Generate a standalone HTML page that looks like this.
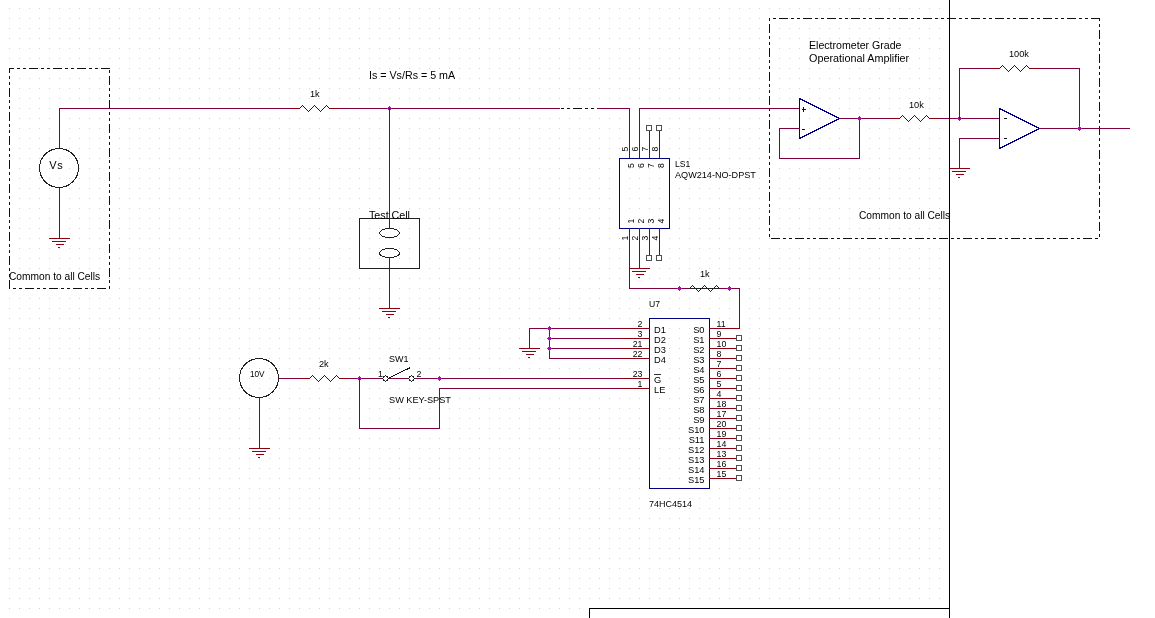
<!DOCTYPE html>
<html><head><meta charset="utf-8"><style>
html,body{margin:0;padding:0;background:#fff;width:1155px;height:618px;overflow:hidden}
svg{display:block;will-change:transform}
text{font-family:"Liberation Sans",sans-serif}
line,polyline{stroke-linecap:square}
</style></head><body>
<svg width="1155" height="618" viewBox="0 0 1155 618" shape-rendering="crispEdges">
<defs><pattern id="g" x="0" y="0" width="10" height="10" patternUnits="userSpaceOnUse"><rect x="9" y="8" width="1" height="1" fill="#d0d0d0"/></pattern></defs>
<path d="M0,0 H949 V608 H589 V618 H0 Z" fill="url(#g)"/>
<rect x="9" y="68" width="5" height="1" fill="#101010"/>
<rect x="17" y="68" width="3" height="1" fill="#101010"/>
<rect x="23" y="68" width="3" height="1" fill="#101010"/>
<rect x="29" y="68" width="9" height="1" fill="#101010"/>
<rect x="41" y="68" width="3" height="1" fill="#101010"/>
<rect x="47" y="68" width="3" height="1" fill="#101010"/>
<rect x="53" y="68" width="9" height="1" fill="#101010"/>
<rect x="65" y="68" width="3" height="1" fill="#101010"/>
<rect x="71" y="68" width="3" height="1" fill="#101010"/>
<rect x="77" y="68" width="9" height="1" fill="#101010"/>
<rect x="89" y="68" width="3" height="1" fill="#101010"/>
<rect x="95" y="68" width="3" height="1" fill="#101010"/>
<rect x="101" y="68" width="9" height="1" fill="#101010"/>
<rect x="9" y="288" width="1" height="1" fill="#101010"/>
<rect x="13" y="288" width="3" height="1" fill="#101010"/>
<rect x="19" y="288" width="3" height="1" fill="#101010"/>
<rect x="25" y="288" width="9" height="1" fill="#101010"/>
<rect x="37" y="288" width="3" height="1" fill="#101010"/>
<rect x="43" y="288" width="3" height="1" fill="#101010"/>
<rect x="49" y="288" width="9" height="1" fill="#101010"/>
<rect x="61" y="288" width="3" height="1" fill="#101010"/>
<rect x="67" y="288" width="3" height="1" fill="#101010"/>
<rect x="73" y="288" width="9" height="1" fill="#101010"/>
<rect x="85" y="288" width="3" height="1" fill="#101010"/>
<rect x="91" y="288" width="3" height="1" fill="#101010"/>
<rect x="97" y="288" width="9" height="1" fill="#101010"/>
<rect x="109" y="288" width="1" height="1" fill="#101010"/>
<rect x="9" y="68" width="1" height="5" fill="#101010"/>
<rect x="9" y="76" width="1" height="3" fill="#101010"/>
<rect x="9" y="82" width="1" height="3" fill="#101010"/>
<rect x="9" y="88" width="1" height="9" fill="#101010"/>
<rect x="9" y="100" width="1" height="3" fill="#101010"/>
<rect x="9" y="106" width="1" height="3" fill="#101010"/>
<rect x="9" y="112" width="1" height="9" fill="#101010"/>
<rect x="9" y="124" width="1" height="3" fill="#101010"/>
<rect x="9" y="130" width="1" height="3" fill="#101010"/>
<rect x="9" y="136" width="1" height="9" fill="#101010"/>
<rect x="9" y="148" width="1" height="3" fill="#101010"/>
<rect x="9" y="154" width="1" height="3" fill="#101010"/>
<rect x="9" y="160" width="1" height="9" fill="#101010"/>
<rect x="9" y="172" width="1" height="3" fill="#101010"/>
<rect x="9" y="178" width="1" height="3" fill="#101010"/>
<rect x="9" y="184" width="1" height="9" fill="#101010"/>
<rect x="9" y="196" width="1" height="3" fill="#101010"/>
<rect x="9" y="202" width="1" height="3" fill="#101010"/>
<rect x="9" y="208" width="1" height="9" fill="#101010"/>
<rect x="9" y="220" width="1" height="3" fill="#101010"/>
<rect x="9" y="226" width="1" height="3" fill="#101010"/>
<rect x="9" y="232" width="1" height="9" fill="#101010"/>
<rect x="9" y="244" width="1" height="3" fill="#101010"/>
<rect x="9" y="250" width="1" height="3" fill="#101010"/>
<rect x="9" y="256" width="1" height="9" fill="#101010"/>
<rect x="9" y="268" width="1" height="3" fill="#101010"/>
<rect x="9" y="274" width="1" height="3" fill="#101010"/>
<rect x="9" y="280" width="1" height="9" fill="#101010"/>
<rect x="109" y="70" width="1" height="3" fill="#101010"/>
<rect x="109" y="76" width="1" height="9" fill="#101010"/>
<rect x="109" y="88" width="1" height="3" fill="#101010"/>
<rect x="109" y="94" width="1" height="3" fill="#101010"/>
<rect x="109" y="100" width="1" height="9" fill="#101010"/>
<rect x="109" y="112" width="1" height="3" fill="#101010"/>
<rect x="109" y="118" width="1" height="3" fill="#101010"/>
<rect x="109" y="124" width="1" height="9" fill="#101010"/>
<rect x="109" y="136" width="1" height="3" fill="#101010"/>
<rect x="109" y="142" width="1" height="3" fill="#101010"/>
<rect x="109" y="148" width="1" height="9" fill="#101010"/>
<rect x="109" y="160" width="1" height="3" fill="#101010"/>
<rect x="109" y="166" width="1" height="3" fill="#101010"/>
<rect x="109" y="172" width="1" height="9" fill="#101010"/>
<rect x="109" y="184" width="1" height="3" fill="#101010"/>
<rect x="109" y="190" width="1" height="3" fill="#101010"/>
<rect x="109" y="196" width="1" height="9" fill="#101010"/>
<rect x="109" y="208" width="1" height="3" fill="#101010"/>
<rect x="109" y="214" width="1" height="3" fill="#101010"/>
<rect x="109" y="220" width="1" height="9" fill="#101010"/>
<rect x="109" y="232" width="1" height="3" fill="#101010"/>
<rect x="109" y="238" width="1" height="3" fill="#101010"/>
<rect x="109" y="244" width="1" height="9" fill="#101010"/>
<rect x="109" y="256" width="1" height="3" fill="#101010"/>
<rect x="109" y="262" width="1" height="3" fill="#101010"/>
<rect x="109" y="268" width="1" height="9" fill="#101010"/>
<rect x="109" y="280" width="1" height="3" fill="#101010"/>
<rect x="109" y="286" width="1" height="3" fill="#101010"/>
<rect x="769" y="18" width="1" height="1" fill="#101010"/>
<rect x="773" y="18" width="3" height="1" fill="#101010"/>
<rect x="779" y="18" width="9" height="1" fill="#101010"/>
<rect x="791" y="18" width="3" height="1" fill="#101010"/>
<rect x="797" y="18" width="3" height="1" fill="#101010"/>
<rect x="803" y="18" width="9" height="1" fill="#101010"/>
<rect x="815" y="18" width="3" height="1" fill="#101010"/>
<rect x="821" y="18" width="3" height="1" fill="#101010"/>
<rect x="827" y="18" width="9" height="1" fill="#101010"/>
<rect x="839" y="18" width="3" height="1" fill="#101010"/>
<rect x="845" y="18" width="3" height="1" fill="#101010"/>
<rect x="851" y="18" width="9" height="1" fill="#101010"/>
<rect x="863" y="18" width="3" height="1" fill="#101010"/>
<rect x="869" y="18" width="3" height="1" fill="#101010"/>
<rect x="875" y="18" width="9" height="1" fill="#101010"/>
<rect x="887" y="18" width="3" height="1" fill="#101010"/>
<rect x="893" y="18" width="3" height="1" fill="#101010"/>
<rect x="899" y="18" width="9" height="1" fill="#101010"/>
<rect x="911" y="18" width="3" height="1" fill="#101010"/>
<rect x="917" y="18" width="3" height="1" fill="#101010"/>
<rect x="923" y="18" width="9" height="1" fill="#101010"/>
<rect x="935" y="18" width="3" height="1" fill="#101010"/>
<rect x="941" y="18" width="3" height="1" fill="#101010"/>
<rect x="947" y="18" width="9" height="1" fill="#101010"/>
<rect x="959" y="18" width="3" height="1" fill="#101010"/>
<rect x="965" y="18" width="3" height="1" fill="#101010"/>
<rect x="971" y="18" width="9" height="1" fill="#101010"/>
<rect x="983" y="18" width="3" height="1" fill="#101010"/>
<rect x="989" y="18" width="3" height="1" fill="#101010"/>
<rect x="995" y="18" width="9" height="1" fill="#101010"/>
<rect x="1007" y="18" width="3" height="1" fill="#101010"/>
<rect x="1013" y="18" width="3" height="1" fill="#101010"/>
<rect x="1019" y="18" width="9" height="1" fill="#101010"/>
<rect x="1031" y="18" width="3" height="1" fill="#101010"/>
<rect x="1037" y="18" width="3" height="1" fill="#101010"/>
<rect x="1043" y="18" width="9" height="1" fill="#101010"/>
<rect x="1055" y="18" width="3" height="1" fill="#101010"/>
<rect x="1061" y="18" width="3" height="1" fill="#101010"/>
<rect x="1067" y="18" width="9" height="1" fill="#101010"/>
<rect x="1079" y="18" width="3" height="1" fill="#101010"/>
<rect x="1085" y="18" width="3" height="1" fill="#101010"/>
<rect x="1091" y="18" width="9" height="1" fill="#101010"/>
<rect x="771" y="238" width="9" height="1" fill="#101010"/>
<rect x="783" y="238" width="3" height="1" fill="#101010"/>
<rect x="789" y="238" width="3" height="1" fill="#101010"/>
<rect x="795" y="238" width="9" height="1" fill="#101010"/>
<rect x="807" y="238" width="3" height="1" fill="#101010"/>
<rect x="813" y="238" width="3" height="1" fill="#101010"/>
<rect x="819" y="238" width="9" height="1" fill="#101010"/>
<rect x="831" y="238" width="3" height="1" fill="#101010"/>
<rect x="837" y="238" width="3" height="1" fill="#101010"/>
<rect x="843" y="238" width="9" height="1" fill="#101010"/>
<rect x="855" y="238" width="3" height="1" fill="#101010"/>
<rect x="861" y="238" width="3" height="1" fill="#101010"/>
<rect x="867" y="238" width="9" height="1" fill="#101010"/>
<rect x="879" y="238" width="3" height="1" fill="#101010"/>
<rect x="885" y="238" width="3" height="1" fill="#101010"/>
<rect x="891" y="238" width="9" height="1" fill="#101010"/>
<rect x="903" y="238" width="3" height="1" fill="#101010"/>
<rect x="909" y="238" width="3" height="1" fill="#101010"/>
<rect x="915" y="238" width="9" height="1" fill="#101010"/>
<rect x="927" y="238" width="3" height="1" fill="#101010"/>
<rect x="933" y="238" width="3" height="1" fill="#101010"/>
<rect x="939" y="238" width="9" height="1" fill="#101010"/>
<rect x="951" y="238" width="3" height="1" fill="#101010"/>
<rect x="957" y="238" width="3" height="1" fill="#101010"/>
<rect x="963" y="238" width="9" height="1" fill="#101010"/>
<rect x="975" y="238" width="3" height="1" fill="#101010"/>
<rect x="981" y="238" width="3" height="1" fill="#101010"/>
<rect x="987" y="238" width="9" height="1" fill="#101010"/>
<rect x="999" y="238" width="3" height="1" fill="#101010"/>
<rect x="1005" y="238" width="3" height="1" fill="#101010"/>
<rect x="1011" y="238" width="9" height="1" fill="#101010"/>
<rect x="1023" y="238" width="3" height="1" fill="#101010"/>
<rect x="1029" y="238" width="3" height="1" fill="#101010"/>
<rect x="1035" y="238" width="9" height="1" fill="#101010"/>
<rect x="1047" y="238" width="3" height="1" fill="#101010"/>
<rect x="1053" y="238" width="3" height="1" fill="#101010"/>
<rect x="1059" y="238" width="9" height="1" fill="#101010"/>
<rect x="1071" y="238" width="3" height="1" fill="#101010"/>
<rect x="1077" y="238" width="3" height="1" fill="#101010"/>
<rect x="1083" y="238" width="9" height="1" fill="#101010"/>
<rect x="1095" y="238" width="3" height="1" fill="#101010"/>
<rect x="769" y="18" width="1" height="3" fill="#101010"/>
<rect x="769" y="24" width="1" height="9" fill="#101010"/>
<rect x="769" y="36" width="1" height="3" fill="#101010"/>
<rect x="769" y="42" width="1" height="3" fill="#101010"/>
<rect x="769" y="48" width="1" height="9" fill="#101010"/>
<rect x="769" y="60" width="1" height="3" fill="#101010"/>
<rect x="769" y="66" width="1" height="3" fill="#101010"/>
<rect x="769" y="72" width="1" height="9" fill="#101010"/>
<rect x="769" y="84" width="1" height="3" fill="#101010"/>
<rect x="769" y="90" width="1" height="3" fill="#101010"/>
<rect x="769" y="96" width="1" height="9" fill="#101010"/>
<rect x="769" y="108" width="1" height="3" fill="#101010"/>
<rect x="769" y="114" width="1" height="3" fill="#101010"/>
<rect x="769" y="120" width="1" height="9" fill="#101010"/>
<rect x="769" y="132" width="1" height="3" fill="#101010"/>
<rect x="769" y="138" width="1" height="3" fill="#101010"/>
<rect x="769" y="144" width="1" height="9" fill="#101010"/>
<rect x="769" y="156" width="1" height="3" fill="#101010"/>
<rect x="769" y="162" width="1" height="3" fill="#101010"/>
<rect x="769" y="168" width="1" height="9" fill="#101010"/>
<rect x="769" y="180" width="1" height="3" fill="#101010"/>
<rect x="769" y="186" width="1" height="3" fill="#101010"/>
<rect x="769" y="192" width="1" height="9" fill="#101010"/>
<rect x="769" y="204" width="1" height="3" fill="#101010"/>
<rect x="769" y="210" width="1" height="3" fill="#101010"/>
<rect x="769" y="216" width="1" height="9" fill="#101010"/>
<rect x="769" y="228" width="1" height="3" fill="#101010"/>
<rect x="769" y="234" width="1" height="3" fill="#101010"/>
<rect x="1099" y="18" width="1" height="3" fill="#101010"/>
<rect x="1099" y="24" width="1" height="3" fill="#101010"/>
<rect x="1099" y="30" width="1" height="9" fill="#101010"/>
<rect x="1099" y="42" width="1" height="3" fill="#101010"/>
<rect x="1099" y="48" width="1" height="3" fill="#101010"/>
<rect x="1099" y="54" width="1" height="9" fill="#101010"/>
<rect x="1099" y="66" width="1" height="3" fill="#101010"/>
<rect x="1099" y="72" width="1" height="3" fill="#101010"/>
<rect x="1099" y="78" width="1" height="9" fill="#101010"/>
<rect x="1099" y="90" width="1" height="3" fill="#101010"/>
<rect x="1099" y="96" width="1" height="3" fill="#101010"/>
<rect x="1099" y="102" width="1" height="9" fill="#101010"/>
<rect x="1099" y="114" width="1" height="3" fill="#101010"/>
<rect x="1099" y="120" width="1" height="3" fill="#101010"/>
<rect x="1099" y="126" width="1" height="9" fill="#101010"/>
<rect x="1099" y="138" width="1" height="3" fill="#101010"/>
<rect x="1099" y="144" width="1" height="3" fill="#101010"/>
<rect x="1099" y="150" width="1" height="9" fill="#101010"/>
<rect x="1099" y="162" width="1" height="3" fill="#101010"/>
<rect x="1099" y="168" width="1" height="3" fill="#101010"/>
<rect x="1099" y="174" width="1" height="9" fill="#101010"/>
<rect x="1099" y="186" width="1" height="3" fill="#101010"/>
<rect x="1099" y="192" width="1" height="3" fill="#101010"/>
<rect x="1099" y="198" width="1" height="9" fill="#101010"/>
<rect x="1099" y="210" width="1" height="3" fill="#101010"/>
<rect x="1099" y="216" width="1" height="3" fill="#101010"/>
<rect x="1099" y="222" width="1" height="9" fill="#101010"/>
<rect x="1099" y="234" width="1" height="3" fill="#101010"/>
<line x1="59.5" y1="108.5" x2="299.5" y2="108.5" stroke="#800040" />
<polyline points="299.5,108.5 302.5,105.5 308.5,111.5 314.5,105.5 320.5,111.5 326.5,105.5 329.5,108.5" fill="none" stroke="#202020" stroke-linejoin="miter"/>
<line x1="330.5" y1="108.5" x2="559.5" y2="108.5" stroke="#800040" />
<rect x="561" y="108" width="3" height="1" fill="#101010"/>
<rect x="567" y="108" width="3" height="1" fill="#101010"/>
<rect x="573" y="108" width="9" height="1" fill="#101010"/>
<rect x="585" y="108" width="3" height="1" fill="#101010"/>
<rect x="591" y="108" width="3" height="1" fill="#101010"/>
<polyline points="597.5,108.5 629.5,108.5 629.5,130.5" fill="none" stroke="#800040" />
<line x1="629.5" y1="130.5" x2="629.5" y2="158.5" stroke="#900010" />
<line x1="59.5" y1="108.5" x2="59.5" y2="148.5" stroke="#800040" />
<circle cx="59" cy="168" r="19.5" fill="none" stroke="#202020"/>
<line x1="59.5" y1="188.5" x2="59.5" y2="238.5" stroke="#800040" />
<line x1="49.5" y1="238.5" x2="69.5" y2="238.5" stroke="#900010" />
<line x1="52.5" y1="241.5" x2="65.5" y2="241.5" stroke="#900010" />
<line x1="56.5" y1="244.5" x2="63.5" y2="244.5" stroke="#900010" />
<line x1="58.5" y1="247.5" x2="59.5" y2="247.5" stroke="#900010" />
<text x="49.3" y="169" font-size="11" fill="#000000" text-anchor="start" letter-spacing="0.7">Vs</text>
<text x="9" y="280" font-size="10.2" fill="#000000" text-anchor="start" >Common to all Cells</text>
<text x="310" y="97" font-size="9.2" fill="#000000" text-anchor="start" >1k</text>
<text x="369" y="79" font-size="10.7" fill="#000000" text-anchor="start" >Is = Vs/Rs = 5 mA</text>
<circle cx="389.5" cy="108.5" r="2.2" fill="#c000c0"/>
<line x1="389.5" y1="108.5" x2="389.5" y2="228.5" stroke="#800040" />
<rect x="359.5" y="218.5" width="60" height="50" fill="none" stroke="#202020"/>
<text x="369" y="219" font-size="10.7" fill="#000000" text-anchor="start" >Test Cell</text>
<line x1="389.5" y1="108.5" x2="389.5" y2="228.5" stroke="#800040" />
<ellipse cx="389.5" cy="233" rx="10" ry="4.5" fill="none" stroke="#202020"/>
<ellipse cx="389.5" cy="253" rx="10" ry="4.5" fill="none" stroke="#202020"/>
<line x1="389.5" y1="258.5" x2="389.5" y2="308.5" stroke="#800040" />
<line x1="379.5" y1="308.5" x2="399.5" y2="308.5" stroke="#900010" />
<line x1="382.5" y1="311.5" x2="395.5" y2="311.5" stroke="#900010" />
<line x1="386.5" y1="314.5" x2="393.5" y2="314.5" stroke="#900010" />
<line x1="388.5" y1="317.5" x2="389.5" y2="317.5" stroke="#900010" />
<polyline points="639.5,130.5 639.5,108.5 799.5,108.5" fill="none" stroke="#800040" />
<line x1="639.5" y1="130.5" x2="639.5" y2="158.5" stroke="#900010" />
<line x1="649.5" y1="131.5" x2="649.5" y2="158.5" stroke="#900010" />
<rect x="646.5" y="125.5" width="5" height="5" fill="#fff" stroke="#505050"/>
<line x1="659.5" y1="131.5" x2="659.5" y2="158.5" stroke="#900010" />
<rect x="656.5" y="125.5" width="5" height="5" fill="#fff" stroke="#505050"/>
<rect x="619.5" y="158.5" width="50" height="70" fill="none" stroke="#000080"/>
<line x1="629.5" y1="228.5" x2="629.5" y2="258.5" stroke="#900010" />
<line x1="639.5" y1="228.5" x2="639.5" y2="258.5" stroke="#900010" />
<line x1="649.5" y1="228.5" x2="649.5" y2="255.5" stroke="#900010" />
<rect x="646.5" y="255.5" width="5" height="5" fill="#fff" stroke="#505050"/>
<line x1="659.5" y1="228.5" x2="659.5" y2="255.5" stroke="#900010" />
<rect x="656.5" y="255.5" width="5" height="5" fill="#fff" stroke="#505050"/>
<polyline points="629.5,258.5 629.5,288.5 679.5,288.5" fill="none" stroke="#800040" />
<line x1="639.5" y1="258.5" x2="639.5" y2="268.5" stroke="#800040" />
<line x1="629.5" y1="268.5" x2="649.5" y2="268.5" stroke="#900010" />
<line x1="632.5" y1="271.5" x2="645.5" y2="271.5" stroke="#900010" />
<line x1="636.5" y1="274.5" x2="643.5" y2="274.5" stroke="#900010" />
<line x1="638.5" y1="277.5" x2="639.5" y2="277.5" stroke="#900010" />
<text x="675" y="167" font-size="8.6" fill="#000000" text-anchor="start" >LS1</text>
<text x="675" y="178" font-size="9.1" fill="#000000" text-anchor="start" >AQW214-NO-DPST</text>
<text x="0" y="0" font-size="8.6" fill="#000000" text-anchor="middle" transform="translate(628,149) rotate(-90)">5</text>
<text x="0" y="0" font-size="8.6" fill="#000000" text-anchor="middle" transform="translate(634,165.5) rotate(-90)">5</text>
<text x="0" y="0" font-size="8.6" fill="#000000" text-anchor="middle" transform="translate(638,149) rotate(-90)">6</text>
<text x="0" y="0" font-size="8.6" fill="#000000" text-anchor="middle" transform="translate(644,165.5) rotate(-90)">6</text>
<text x="0" y="0" font-size="8.6" fill="#000000" text-anchor="middle" transform="translate(648,149) rotate(-90)">7</text>
<text x="0" y="0" font-size="8.6" fill="#000000" text-anchor="middle" transform="translate(654,165.5) rotate(-90)">7</text>
<text x="0" y="0" font-size="8.6" fill="#000000" text-anchor="middle" transform="translate(658,149) rotate(-90)">8</text>
<text x="0" y="0" font-size="8.6" fill="#000000" text-anchor="middle" transform="translate(664,165.5) rotate(-90)">8</text>
<text x="0" y="0" font-size="8.6" fill="#000000" text-anchor="middle" transform="translate(628,238) rotate(-90)">1</text>
<text x="0" y="0" font-size="8.6" fill="#000000" text-anchor="middle" transform="translate(634,221) rotate(-90)">1</text>
<text x="0" y="0" font-size="8.6" fill="#000000" text-anchor="middle" transform="translate(638,238) rotate(-90)">2</text>
<text x="0" y="0" font-size="8.6" fill="#000000" text-anchor="middle" transform="translate(644,221) rotate(-90)">2</text>
<text x="0" y="0" font-size="8.6" fill="#000000" text-anchor="middle" transform="translate(648,238) rotate(-90)">3</text>
<text x="0" y="0" font-size="8.6" fill="#000000" text-anchor="middle" transform="translate(654,221) rotate(-90)">3</text>
<text x="0" y="0" font-size="8.6" fill="#000000" text-anchor="middle" transform="translate(658,238) rotate(-90)">4</text>
<text x="0" y="0" font-size="8.6" fill="#000000" text-anchor="middle" transform="translate(664,221) rotate(-90)">4</text>
<polyline points="679.5,288.5 739.5,288.5 739.5,328.5 709.5,328.5" fill="none" stroke="#800040" />
<line x1="689.5" y1="288.5" x2="719.5" y2="288.5" stroke="#202020" />
<polyline points="689.5,288.5 692.5,285.5 698.5,291.5 704.5,285.5 710.5,291.5 716.5,285.5 719.5,288.5" fill="none" stroke="#202020" stroke-linejoin="miter"/>
<circle cx="679.5" cy="288.5" r="2.2" fill="#c000c0"/>
<circle cx="729.5" cy="288.5" r="2.2" fill="#c000c0"/>
<text x="700" y="277" font-size="9.2" fill="#000000" text-anchor="start" >1k</text>
<rect x="649.5" y="318.5" width="60" height="170" fill="none" stroke="#000080"/>
<text x="649" y="307" font-size="8.6" fill="#000000" text-anchor="start" >U7</text>
<text x="649" y="507" font-size="9" fill="#000000" text-anchor="start" >74HC4514</text>
<line x1="709.5" y1="328.5" x2="739.5" y2="328.5" stroke="#900010" />
<text x="704.5" y="332.5" font-size="9.3" fill="#000000" text-anchor="end" >S0</text>
<text x="716.5" y="326.5" font-size="8.8" fill="#000000" text-anchor="start" >11</text>
<line x1="709.5" y1="338.5" x2="736.5" y2="338.5" stroke="#900010" />
<rect x="736.5" y="335.5" width="5" height="5" fill="#fff" stroke="#505050"/>
<text x="704.5" y="342.5" font-size="9.3" fill="#000000" text-anchor="end" >S1</text>
<text x="716.5" y="336.5" font-size="8.8" fill="#000000" text-anchor="start" >9</text>
<line x1="709.5" y1="348.5" x2="736.5" y2="348.5" stroke="#900010" />
<rect x="736.5" y="345.5" width="5" height="5" fill="#fff" stroke="#505050"/>
<text x="704.5" y="352.5" font-size="9.3" fill="#000000" text-anchor="end" >S2</text>
<text x="716.5" y="346.5" font-size="8.8" fill="#000000" text-anchor="start" >10</text>
<line x1="709.5" y1="358.5" x2="736.5" y2="358.5" stroke="#900010" />
<rect x="736.5" y="355.5" width="5" height="5" fill="#fff" stroke="#505050"/>
<text x="704.5" y="362.5" font-size="9.3" fill="#000000" text-anchor="end" >S3</text>
<text x="716.5" y="356.5" font-size="8.8" fill="#000000" text-anchor="start" >8</text>
<line x1="709.5" y1="368.5" x2="736.5" y2="368.5" stroke="#900010" />
<rect x="736.5" y="365.5" width="5" height="5" fill="#fff" stroke="#505050"/>
<text x="704.5" y="372.5" font-size="9.3" fill="#000000" text-anchor="end" >S4</text>
<text x="716.5" y="366.5" font-size="8.8" fill="#000000" text-anchor="start" >7</text>
<line x1="709.5" y1="378.5" x2="736.5" y2="378.5" stroke="#900010" />
<rect x="736.5" y="375.5" width="5" height="5" fill="#fff" stroke="#505050"/>
<text x="704.5" y="382.5" font-size="9.3" fill="#000000" text-anchor="end" >S5</text>
<text x="716.5" y="376.5" font-size="8.8" fill="#000000" text-anchor="start" >6</text>
<line x1="709.5" y1="388.5" x2="736.5" y2="388.5" stroke="#900010" />
<rect x="736.5" y="385.5" width="5" height="5" fill="#fff" stroke="#505050"/>
<text x="704.5" y="392.5" font-size="9.3" fill="#000000" text-anchor="end" >S6</text>
<text x="716.5" y="386.5" font-size="8.8" fill="#000000" text-anchor="start" >5</text>
<line x1="709.5" y1="398.5" x2="736.5" y2="398.5" stroke="#900010" />
<rect x="736.5" y="395.5" width="5" height="5" fill="#fff" stroke="#505050"/>
<text x="704.5" y="402.5" font-size="9.3" fill="#000000" text-anchor="end" >S7</text>
<text x="716.5" y="396.5" font-size="8.8" fill="#000000" text-anchor="start" >4</text>
<line x1="709.5" y1="408.5" x2="736.5" y2="408.5" stroke="#900010" />
<rect x="736.5" y="405.5" width="5" height="5" fill="#fff" stroke="#505050"/>
<text x="704.5" y="412.5" font-size="9.3" fill="#000000" text-anchor="end" >S8</text>
<text x="716.5" y="406.5" font-size="8.8" fill="#000000" text-anchor="start" >18</text>
<line x1="709.5" y1="418.5" x2="736.5" y2="418.5" stroke="#900010" />
<rect x="736.5" y="415.5" width="5" height="5" fill="#fff" stroke="#505050"/>
<text x="704.5" y="422.5" font-size="9.3" fill="#000000" text-anchor="end" >S9</text>
<text x="716.5" y="416.5" font-size="8.8" fill="#000000" text-anchor="start" >17</text>
<line x1="709.5" y1="428.5" x2="736.5" y2="428.5" stroke="#900010" />
<rect x="736.5" y="425.5" width="5" height="5" fill="#fff" stroke="#505050"/>
<text x="704.5" y="432.5" font-size="9.3" fill="#000000" text-anchor="end" >S10</text>
<text x="716.5" y="426.5" font-size="8.8" fill="#000000" text-anchor="start" >20</text>
<line x1="709.5" y1="438.5" x2="736.5" y2="438.5" stroke="#900010" />
<rect x="736.5" y="435.5" width="5" height="5" fill="#fff" stroke="#505050"/>
<text x="704.5" y="442.5" font-size="9.3" fill="#000000" text-anchor="end" >S11</text>
<text x="716.5" y="436.5" font-size="8.8" fill="#000000" text-anchor="start" >19</text>
<line x1="709.5" y1="448.5" x2="736.5" y2="448.5" stroke="#900010" />
<rect x="736.5" y="445.5" width="5" height="5" fill="#fff" stroke="#505050"/>
<text x="704.5" y="452.5" font-size="9.3" fill="#000000" text-anchor="end" >S12</text>
<text x="716.5" y="446.5" font-size="8.8" fill="#000000" text-anchor="start" >14</text>
<line x1="709.5" y1="458.5" x2="736.5" y2="458.5" stroke="#900010" />
<rect x="736.5" y="455.5" width="5" height="5" fill="#fff" stroke="#505050"/>
<text x="704.5" y="462.5" font-size="9.3" fill="#000000" text-anchor="end" >S13</text>
<text x="716.5" y="456.5" font-size="8.8" fill="#000000" text-anchor="start" >13</text>
<line x1="709.5" y1="468.5" x2="736.5" y2="468.5" stroke="#900010" />
<rect x="736.5" y="465.5" width="5" height="5" fill="#fff" stroke="#505050"/>
<text x="704.5" y="472.5" font-size="9.3" fill="#000000" text-anchor="end" >S14</text>
<text x="716.5" y="466.5" font-size="8.8" fill="#000000" text-anchor="start" >16</text>
<line x1="709.5" y1="478.5" x2="736.5" y2="478.5" stroke="#900010" />
<rect x="736.5" y="475.5" width="5" height="5" fill="#fff" stroke="#505050"/>
<text x="704.5" y="482.5" font-size="9.3" fill="#000000" text-anchor="end" >S15</text>
<text x="716.5" y="476.5" font-size="8.8" fill="#000000" text-anchor="start" >15</text>
<line x1="619.5" y1="328.5" x2="649.5" y2="328.5" stroke="#900010" />
<text x="654" y="332.5" font-size="9.3" fill="#000000" text-anchor="start" >D1</text>
<text x="642.5" y="326.5" font-size="8.8" fill="#000000" text-anchor="end" >2</text>
<line x1="619.5" y1="338.5" x2="649.5" y2="338.5" stroke="#900010" />
<text x="654" y="342.5" font-size="9.3" fill="#000000" text-anchor="start" >D2</text>
<text x="642.5" y="336.5" font-size="8.8" fill="#000000" text-anchor="end" >3</text>
<line x1="619.5" y1="348.5" x2="649.5" y2="348.5" stroke="#900010" />
<text x="654" y="352.5" font-size="9.3" fill="#000000" text-anchor="start" >D3</text>
<text x="642.5" y="346.5" font-size="8.8" fill="#000000" text-anchor="end" >21</text>
<line x1="619.5" y1="358.5" x2="649.5" y2="358.5" stroke="#900010" />
<text x="654" y="362.5" font-size="9.3" fill="#000000" text-anchor="start" >D4</text>
<text x="642.5" y="356.5" font-size="8.8" fill="#000000" text-anchor="end" >22</text>
<line x1="619.5" y1="378.5" x2="649.5" y2="378.5" stroke="#900010" />
<text x="654" y="382.5" font-size="9.3" fill="#000000" text-anchor="start" >G</text>
<text x="642.5" y="376.5" font-size="8.8" fill="#000000" text-anchor="end" >23</text>
<line x1="619.5" y1="388.5" x2="649.5" y2="388.5" stroke="#900010" />
<text x="654" y="392.5" font-size="9.3" fill="#000000" text-anchor="start" >LE</text>
<text x="642.5" y="386.5" font-size="8.8" fill="#000000" text-anchor="end" >1</text>
<line x1="654.5" y1="374.5" x2="660.5" y2="374.5" stroke="#303030" />
<line x1="529.5" y1="328.5" x2="619.5" y2="328.5" stroke="#800040" />
<line x1="549.5" y1="338.5" x2="619.5" y2="338.5" stroke="#800040" />
<line x1="549.5" y1="348.5" x2="619.5" y2="348.5" stroke="#800040" />
<line x1="549.5" y1="358.5" x2="619.5" y2="358.5" stroke="#800040" />
<line x1="549.5" y1="328.5" x2="549.5" y2="358.5" stroke="#800040" />
<line x1="529.5" y1="328.5" x2="529.5" y2="348.5" stroke="#800040" />
<line x1="519.5" y1="348.5" x2="539.5" y2="348.5" stroke="#900010" />
<line x1="522.5" y1="351.5" x2="535.5" y2="351.5" stroke="#900010" />
<line x1="526.5" y1="354.5" x2="533.5" y2="354.5" stroke="#900010" />
<line x1="528.5" y1="357.5" x2="529.5" y2="357.5" stroke="#900010" />
<circle cx="549.5" cy="328.5" r="2.2" fill="#c000c0"/>
<circle cx="549.5" cy="338.5" r="2.2" fill="#c000c0"/>
<circle cx="549.5" cy="348.5" r="2.2" fill="#c000c0"/>
<circle cx="259" cy="378" r="19.5" fill="none" stroke="#202020"/>
<text x="250" y="377" font-size="8.2" fill="#000000" text-anchor="start" >10V</text>
<line x1="279.5" y1="378.5" x2="309.5" y2="378.5" stroke="#800040" />
<polyline points="309.5,378.5 312.5,375.5 318.5,381.5 324.5,375.5 330.5,381.5 336.5,375.5 339.5,378.5" fill="none" stroke="#202020" stroke-linejoin="miter"/>
<line x1="339.5" y1="378.5" x2="619.5" y2="378.5" stroke="#800040" />
<text x="319" y="367" font-size="9.2" fill="#000000" text-anchor="start" >2k</text>
<circle cx="359.5" cy="378.5" r="2.2" fill="#c000c0"/>
<circle cx="439.5" cy="378.5" r="2.2" fill="#c000c0"/>
<circle cx="385.5" cy="378.5" r="2.6" fill="#fff" stroke="#202020"/>
<circle cx="411.5" cy="378.5" r="2.6" fill="#fff" stroke="#202020"/>
<line x1="389" y1="378" x2="409.5" y2="368" stroke="#101010"/>
<text x="378" y="377" font-size="8.8" fill="#000000" text-anchor="start" >1</text>
<text x="416.5" y="377" font-size="8.8" fill="#000000" text-anchor="start" >2</text>
<text x="389" y="362" font-size="9" fill="#000000" text-anchor="start" >SW1</text>
<text x="389" y="403" font-size="9.2" fill="#000000" text-anchor="start" >SW KEY-SPST</text>
<polyline points="359.5,378.5 359.5,428.5 439.5,428.5 439.5,388.5 619.5,388.5" fill="none" stroke="#800040" />
<line x1="259.5" y1="397.5" x2="259.5" y2="448.5" stroke="#800040" />
<line x1="249.5" y1="448.5" x2="269.5" y2="448.5" stroke="#900010" />
<line x1="252.5" y1="451.5" x2="265.5" y2="451.5" stroke="#900010" />
<line x1="256.5" y1="454.5" x2="263.5" y2="454.5" stroke="#900010" />
<line x1="258.5" y1="457.5" x2="259.5" y2="457.5" stroke="#900010" />
<polygon points="799.5,98.5 839.5,118.5 799.5,138.5" fill="none" stroke="#000080"/>
<line x1="802.5" y1="109.5" x2="805.5" y2="109.5" stroke="#101010" />
<line x1="803.5" y1="107.5" x2="803.5" y2="111.5" stroke="#101010" />
<line x1="802.5" y1="129.5" x2="804.5" y2="129.5" stroke="#101010" />
<polyline points="799.5,128.5 779.5,128.5 779.5,158.5 859.5,158.5 859.5,118.5" fill="none" stroke="#800040" />
<line x1="839.5" y1="118.5" x2="899.5" y2="118.5" stroke="#800040" />
<polyline points="899.5,118.5 902.5,115.5 908.5,121.5 914.5,115.5 920.5,121.5 926.5,115.5 929.5,118.5" fill="none" stroke="#202020" stroke-linejoin="miter"/>
<line x1="930.5" y1="118.5" x2="999.5" y2="118.5" stroke="#800040" />
<circle cx="859.5" cy="118.5" r="2.2" fill="#c000c0"/>
<circle cx="959.5" cy="118.5" r="2.2" fill="#c000c0"/>
<text x="909" y="108" font-size="9.2" fill="#000000" text-anchor="start" >10k</text>
<text x="809" y="49" font-size="10.6" fill="#000000" text-anchor="start" >Electrometer Grade</text>
<text x="809" y="62" font-size="10.8" fill="#000000" text-anchor="start" >Operational Amplifier</text>
<text x="859" y="219" font-size="10.2" fill="#000000" text-anchor="start" >Common to all Cells</text>
<polygon points="999.5,108.5 1039.5,128.5 999.5,148.5" fill="none" stroke="#000080"/>
<line x1="1004.5" y1="118.5" x2="1006.5" y2="118.5" stroke="#101010" />
<line x1="1004.5" y1="138.5" x2="1006.5" y2="138.5" stroke="#101010" />
<polyline points="959.5,118.5 959.5,68.5 999.5,68.5" fill="none" stroke="#800040" />
<polyline points="999.5,68.5 1002.5,65.5 1008.5,71.5 1014.5,65.5 1020.5,71.5 1026.5,65.5 1029.5,68.5" fill="none" stroke="#202020" stroke-linejoin="miter"/>
<polyline points="1030.5,68.5 1079.5,68.5 1079.5,128.5" fill="none" stroke="#800040" />
<line x1="1039.5" y1="128.5" x2="1129.5" y2="128.5" stroke="#800040" />
<circle cx="1079.5" cy="128.5" r="2.2" fill="#c000c0"/>
<polyline points="999.5,138.5 959.5,138.5 959.5,168.5" fill="none" stroke="#800040" />
<line x1="949.5" y1="168.5" x2="969.5" y2="168.5" stroke="#900010" />
<line x1="952.5" y1="171.5" x2="965.5" y2="171.5" stroke="#900010" />
<line x1="956.5" y1="174.5" x2="963.5" y2="174.5" stroke="#900010" />
<line x1="958.5" y1="177.5" x2="959.5" y2="177.5" stroke="#900010" />
<text x="1009" y="57" font-size="9.2" fill="#000000" text-anchor="start" >100k</text>
<line x1="949.5" y1="0" x2="949.5" y2="618" stroke="#000"/>
<path d="M589.5,618 V608.5 H949.5" fill="none" stroke="#000"/>
<line x1="289.5" y1="108.5" x2="298.5" y2="108.5" stroke="#900010" />
<line x1="330.5" y1="108.5" x2="338.5" y2="108.5" stroke="#900010" />
<line x1="299.5" y1="378.5" x2="308.5" y2="378.5" stroke="#900010" />
<line x1="340.5" y1="378.5" x2="348.5" y2="378.5" stroke="#900010" />
<line x1="889.5" y1="118.5" x2="898.5" y2="118.5" stroke="#900010" />
<line x1="930.5" y1="118.5" x2="938.5" y2="118.5" stroke="#900010" />
<line x1="989.5" y1="68.5" x2="998.5" y2="68.5" stroke="#900010" />
<line x1="1030.5" y1="68.5" x2="1038.5" y2="68.5" stroke="#900010" />
</svg></body></html>
